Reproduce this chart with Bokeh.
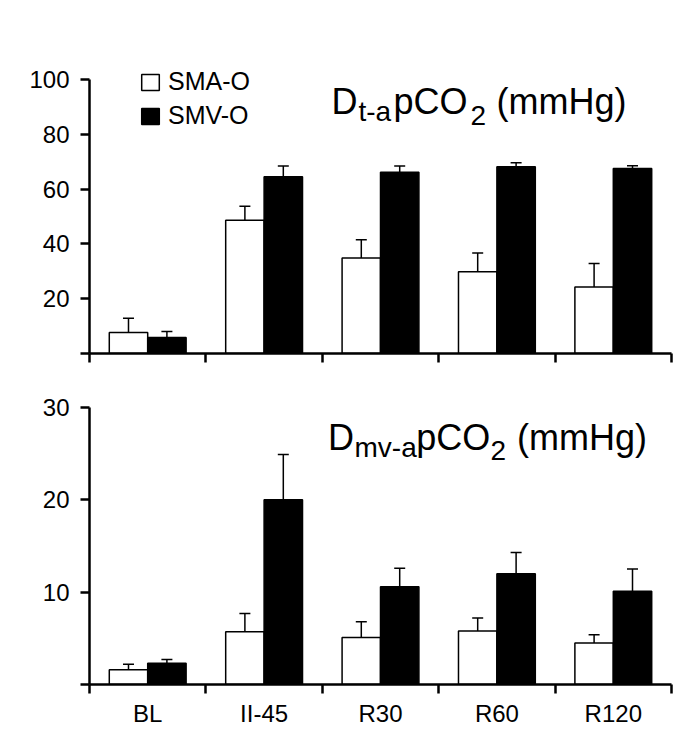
from bokeh.plotting import figure
from bokeh.models import (ColumnDataSource, Range1d, LinearAxis,
                          FixedTicker, CustomJSTickFormatter, Whisker, TeeHead, Legend,
                          LegendItem, Label)
from bokeh.transform import dodge
from bokeh.layouts import column
from bokeh.embed import file_html
from bokeh.resources import INLINE

# ---------------- data ----------------
categories = ["BL", "II-45", "R30", "R60", "R120"]
series = ["SMA-O", "SMV-O"]

# D t-a pCO2 (mmHg)
top_sma = [7.7, 48.6, 34.8, 29.8, 24.3]
top_sma_err = [5.2, 5.1, 6.7, 6.9, 8.5]
top_smv = [5.8, 64.5, 66.1, 68.1, 67.5]
top_smv_err = [2.2, 3.9, 2.3, 1.5, 1.0]
top_ticks = [0, 20, 40, 60, 80, 100]

# D mv-a pCO2 (mmHg)
bot_sma = [1.6, 5.7, 5.1, 5.8, 4.5]
bot_sma_err = [0.6, 2.0, 1.7, 1.4, 0.9]
bot_smv = [2.3, 20.0, 10.6, 12.0, 10.1]
bot_smv_err = [0.4, 4.9, 2.0, 2.3, 2.4]
bot_ticks = [0, 10, 20, 30]

FONT = "Liberation Sans"
BW = 0.33


def make_panel(sma, sma_err, smv, smv_err, yticks, ytop, show_labels, height, borders,
               title_parts, legend=False):
    n = len(categories)
    src = ColumnDataSource(dict(
        cat=categories,
        x=[i + 0.5 for i in range(n)],
        sma=sma, sma_hi=[v + e for v, e in zip(sma, sma_err)],
        smv=smv, smv_hi=[v + e for v, e in zip(smv, smv_err)],
    ))
    p = figure(width=685, height=height,
               x_range=Range1d(0, n),
               y_range=Range1d(yticks[0], ytop),
               x_axis_location=None,
               output_backend="svg", toolbar_location=None,
               min_border_left=borders[0], min_border_right=borders[1],
               min_border_top=borders[2], min_border_bottom=borders[3])
    p.outline_line_color = None
    p.xgrid.visible = False
    p.ygrid.visible = False
    p.background_fill_color = "white"
    p.border_fill_color = "white"

    r1 = p.vbar(x=dodge("x", -BW / 2), top="sma", width=BW, source=src,
                fill_color="white", line_color="black", line_width=1.5)
    r2 = p.vbar(x=dodge("x", BW / 2), top="smv", width=BW, source=src,
                fill_color="black", line_color="black", line_width=1.5)

    for off, lo, hi in ((-BW / 2, "sma", "sma_hi"), (BW / 2, "smv", "smv_hi")):
        w = Whisker(base=dodge("x", off), lower=lo, upper=hi, source=src,
                    dimension="height", line_color="black", line_width=1.5,
                    upper_head=TeeHead(size=11, line_width=1.5, line_color="black"),
                    lower_head=None)
        p.add_layout(w)

    # y axis
    ya = p.yaxis[0]
    ya.ticker = FixedTicker(ticks=yticks, minor_ticks=[])
    ya.bounds = (yticks[0], yticks[-1])
    ya.major_label_overrides = {yticks[0]: ""}
    ya.major_tick_out = 9
    ya.major_tick_in = 0
    ya.major_tick_line_width = 2.5
    ya.axis_line_width = 2.5
    ya.minor_tick_line_color = None
    ya.major_label_text_font = FONT
    ya.major_label_text_font_size = "24px"
    ya.major_label_text_color = "black"
    ya.major_label_standoff = 11

    # x axis: boundary ticks + centred labels
    xa = LinearAxis(ticker=FixedTicker(ticks=[i + 0.5 for i in range(n)],
                                       minor_ticks=list(range(n + 1))),
                    formatter=CustomJSTickFormatter(
                        args=dict(names=categories if show_labels else [""] * n),
                        code="return names[Math.floor(tick)] || '';"))
    xa.major_tick_line_color = None
    xa.major_tick_out = 0
    xa.major_tick_in = 0
    xa.minor_tick_out = 9
    xa.minor_tick_in = 0
    xa.minor_tick_line_width = 2.5
    xa.minor_tick_line_color = "black"
    xa.axis_line_width = 2.5
    xa.major_label_text_font = FONT
    xa.major_label_text_font_size = "24px"
    xa.major_label_text_color = "black"
    xa.major_label_standoff = 6
    p.add_layout(xa, "below")

    for txt, x, y, size in title_parts:
        p.add_layout(Label(x=x, y=y, text=txt, text_font=FONT,
                           text_font_size=size, text_baseline="alphabetic",
                           text_color="black"))

    if legend:
        lg = Legend(items=[LegendItem(label=series[0], renderers=[r1]),
                           LegendItem(label=series[1], renderers=[r2])],
                    location=(50, 223), orientation="vertical",
                    label_text_font=FONT, label_text_font_size="25px",
                    label_text_color="black",
                    glyph_width=22, glyph_height=20, label_standoff=7, spacing=5,
                    label_height=20, padding=0, margin=0,
                    border_line_color=None, background_fill_alpha=0)
        p.add_layout(lg)
    return p


top_title = [("D", 2.079, 91.8, "36px"), ("t-a", 2.311, 88.1, "28px"),
             ("pCO", 2.612, 91.8, "36px"), ("2", 3.273, 86.9, "28px"),
             ("(mmHg)", 3.497, 91.8, "36px")]
bot_title = [("D", 2.050, 26.76, "36px"), ("mv-a", 2.277, 25.68, "28px"),
             ("pCO", 2.807, 26.76, "36px"), ("2", 3.445, 25.32, "28px"),
             ("(mmHg)", 3.672, 26.76, "36px")]

p1 = make_panel(top_sma, top_sma_err, top_smv, top_smv_err, top_ticks, 120, False, 383,
                (89, 14, 24, 30), top_title, legend=True)
p2 = make_panel(bot_sma, bot_sma_err, bot_smv, bot_smv_err, bot_ticks, 30, True, 351,
                (87, 3, 24, 50), bot_title)

layout = column(p1, p2, spacing=0)
open("out.html", "w").write(file_html(layout, INLINE))
